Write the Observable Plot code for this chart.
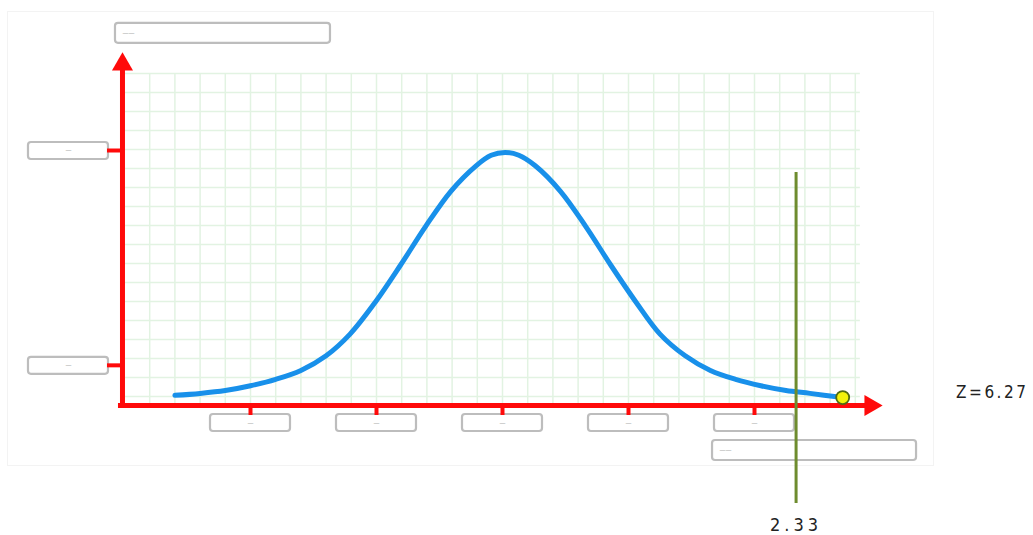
<!DOCTYPE html>
<html>
<head>
<meta charset="utf-8">
<script src="https://cdn.jsdelivr.net/npm/d3@7"></script>
<script src="https://cdn.jsdelivr.net/npm/@observablehq/plot@0.6"></script>
<style>
  html, body { margin: 0; padding: 0; background: #fff; }
  #chart svg { display: block; }
</style>
</head>
<body>
<div id="chart"></div>
<script>
// ---- data ----
const curveX = [-2.6, -2.4, -2.2, -2.0, -1.8, -1.6, -1.4, -1.21, -1.01, -0.81, -0.61, -0.41, -0.21, -0.09, 0.02, 0.13, 0.26, 0.46, 0.66, 0.86, 1.06, 1.25, 1.45, 1.65, 1.85, 2.05, 2.25, 2.44, 2.7];
const curveY = [0.016, 0.019, 0.0235, 0.031, 0.041, 0.055, 0.078, 0.112, 0.162, 0.22, 0.281, 0.336, 0.376, 0.3925, 0.397, 0.3925, 0.376, 0.336, 0.281, 0.22, 0.162, 0.112, 0.078, 0.055, 0.041, 0.031, 0.0235, 0.019, 0.0125];
const xTicks = [-2, -1, 0, 1, 2];
const xTickLabels = ["—", "—", "—", "—", "—"];
const yTicks = [0.4, 0.063];
const yTickLabels = ["—", "—"];
const yTitle = "——";
const xTitle = "——";
const criticalZ = 2.33;
const criticalLabel = "2.33";
const observed = [{x: 2.7, y: 0.0125}];
const zLabel = "Z=6.27";
const xAxisEnd = 3.016;   // arrow tip (z units)
const yAxisEnd = 0.554;   // arrow tip (density units)
const xAxisPos = -3.016;  // where the vertical axis stands
// --------------------------------------

const curve = curveX.map((x, i) => ({x, y: curveY[i]}));
const gridX = d3.range(-2.8, 2.85, 0.2);
const gridY = d3.range(0, 18).map(k => 0.5208 - k * 0.0298);

const pxX = 1 / 126, pxY = 0.4 / 255; // one pixel in data units

const xBoxes = xTicks.map((t, i) => ({x1: t - 40 * pxX, x2: t + 40 * pxX, y1: -9 * pxY, y2: -26 * pxY, x: t, label: xTickLabels[i]}));
const yBoxes = yTicks.map((t, i) => ({x1: xAxisPos - 94 * pxX, x2: xAxisPos - 14 * pxX, y1: t + 8 * pxY, y2: t - 9 * pxY, x: xAxisPos - 54 * pxX, y: t, label: yTickLabels[i]}));
const topBox = [{x1: xAxisPos - 7 * pxX, x2: xAxisPos + 208 * pxX, y1: yAxisEnd + 29 * pxY, y2: yAxisEnd + 9 * pxY, label: yTitle}];
const bottomBox = [{x1: 1.667, x2: 1.667 + 204 * pxX, y1: -35 * pxY, y2: -55 * pxY, label: xTitle}];

const red = "#ff0a0a";
const boxStyle = {rx: 3, fill: "white", stroke: "#bdbdbd", strokeWidth: 2.2};
const tiny = {fontSize: 6, fill: "#999"};
const font = "Liberation Sans Narrow, DejaVu Sans Condensed, sans-serif";

const chart = Plot.plot({
  width: 1033,
  height: 535,
  marginLeft: 0, marginRight: 0, marginTop: 0, marginBottom: 0,
  x: {domain: [-2, 2], range: [250, 754], axis: null},
  y: {domain: [0, 0.4], range: [405, 150], axis: null},
  marks: [
    Plot.frame({stroke: "#f3f3f3", insetLeft: 7, insetTop: 11, insetRight: 100, insetBottom: 70}),
    // grid
    Plot.ruleX(gridX, {y1: 0, y2: 0.5208, stroke: "#e2f3e2", strokeWidth: 1.5}),
    Plot.ruleY(gridY, {x1: xAxisPos, x2: 2.84, stroke: "#e2f3e2", strokeWidth: 1.5}),
    // label boxes
    Plot.rect(topBox, {x1: "x1", x2: "x2", y1: "y1", y2: "y2", ...boxStyle}),
    Plot.text(topBox, {x: "x1", y: d => (d.y1 + d.y2) / 2, text: "label", textAnchor: "start", dx: 7, ...tiny}),
    Plot.rect(bottomBox, {x1: "x1", x2: "x2", y1: "y1", y2: "y2", ...boxStyle}),
    Plot.text(bottomBox, {x: "x1", y: d => (d.y1 + d.y2) / 2, text: "label", textAnchor: "start", dx: 7, ...tiny}),
    Plot.rect(xBoxes, {x1: "x1", x2: "x2", y1: "y1", y2: "y2", ...boxStyle}),
    Plot.text(xBoxes, {x: "x", y: d => (d.y1 + d.y2) / 2, text: "label", ...tiny}),
    Plot.rect(yBoxes, {x1: "x1", x2: "x2", y1: "y1", y2: "y2", ...boxStyle}),
    Plot.text(yBoxes, {x: "x", y: "y", text: "label", ...tiny}),
    // tick marks
    Plot.ruleX(xTicks, {y1: 0, y2: -10 * pxY, stroke: red, strokeWidth: 4}),
    Plot.ruleY(yTicks, {x1: xAxisPos - 15 * pxX, x2: xAxisPos, stroke: red, strokeWidth: 4}),
    // axes
    Plot.ruleX([xAxisPos], {y1: -2 * pxY, y2: yAxisEnd - 12 * pxY, stroke: red, strokeWidth: 5}),
    Plot.ruleY([0], {x1: xAxisPos - 4 * pxX, x2: xAxisEnd - 12 * pxX, stroke: red, strokeWidth: 5}),
    Plot.dot([{x: xAxisPos, y: yAxisEnd}], {x: "x", y: "y", symbol: "triangle", r: 7.8, fill: red, stroke: "none", dy: 12}),
    Plot.dot([{x: xAxisEnd, y: 0}], {x: "x", y: "y", symbol: "triangle", r: 7.8, fill: red, stroke: "none", rotate: 90, dx: -12}),
    // curve
    Plot.line(curve, {x: "x", y: "y", curve: "catmull-rom", stroke: "#1890ea", strokeWidth: 5, strokeLinecap: "round"}),
    // critical value line
    Plot.ruleX([criticalZ], {y1: 0.3655, y2: -0.1537, stroke: "#6e8c2e", strokeWidth: 3}),
    Plot.text([criticalZ], {x: d => d, y: -0.1537, dy: 22, text: () => criticalLabel, fontSize: 18, fill: "#222", fontFamily: font}),
    // observed statistic
    Plot.dot(observed, {x: "x", y: "y", r: 6.5, fill: "#f2f20a", stroke: "#4f6b10", strokeWidth: 1.8}),
    Plot.text([zLabel], {x: 3.6, y: 0.021, text: d => d, textAnchor: "start", fontSize: 17, fill: "#222", fontFamily: font})
  ]
});

d3.select(chart).selectAll("text").filter(function() {
  return this.textContent === criticalLabel;
}).style("letter-spacing", "4px");
d3.select(chart).selectAll("text").filter(function() {
  return this.textContent === zLabel;
}).style("letter-spacing", "2.5px");

document.getElementById("chart").appendChild(chart);
</script>
</body>
</html>
